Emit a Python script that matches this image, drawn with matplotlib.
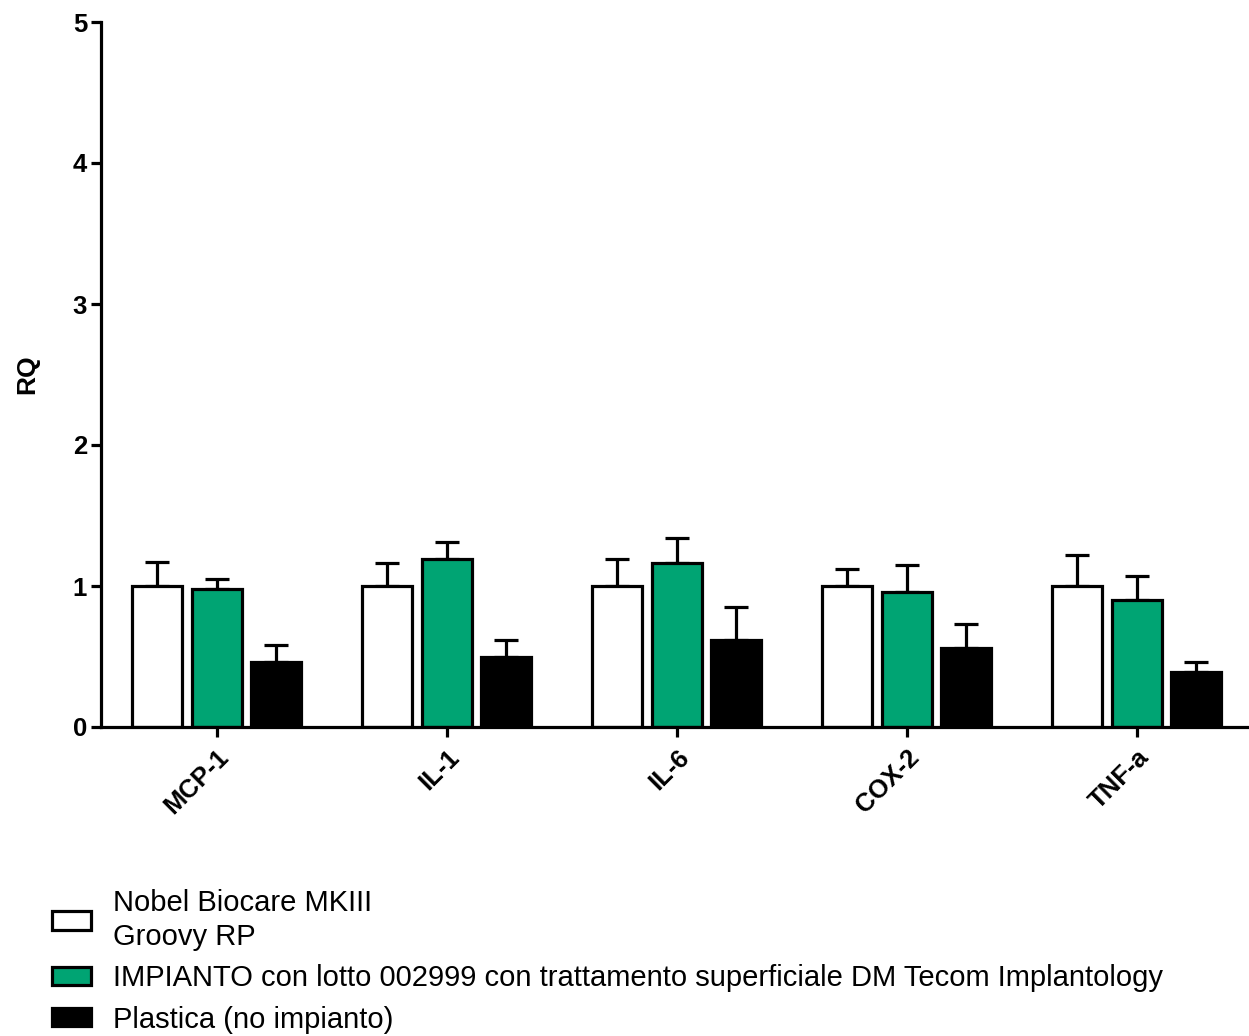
import matplotlib
matplotlib.use("Agg")
import matplotlib.pyplot as plt
import matplotlib.transforms as mtransforms
import numpy as np
from matplotlib.patches import Patch

categories = ["MCP-1", "IL-1", "IL-6", "COX-2", "TNF-a"]
series_names = ["Nobel Biocare MKIII\nGroovy RP",
                "IMPIANTO con lotto 002999 con trattamento superficiale DM Tecom Implantology",
                "Plastica (no impianto)"]
nobel = [1.00, 1.00, 1.00, 1.00, 1.00]
nobel_err = [0.17, 0.16, 0.19, 0.12, 0.22]
impianto = [0.98, 1.19, 1.16, 0.96, 0.90]
impianto_err = [0.07, 0.12, 0.18, 0.19, 0.17]
plastica = [0.46, 0.50, 0.62, 0.56, 0.39]
plastica_err = [0.12, 0.12, 0.23, 0.17, 0.07]
colors = ["white", "#00A473", "black"]
yticks = [0, 1, 2, 3, 4, 5]

plt.rcParams['font.family'] = ['Liberation Sans', 'DejaVu Sans']

fig = plt.figure(figsize=(12.49, 10.36), dpi=100)
ax = fig.add_axes([101/1249, 1 - 727/1036, 1 - 101/1249, (727 - 22)/1036])

x = np.arange(len(categories))
width = 50/230
offset = 59.5/230
lw = 2.3
data = [(nobel, nobel_err), (impianto, impianto_err), (plastica, plastica_err)]
for i, ((vals, errs), c) in enumerate(zip(data, colors)):
    pos = x + (i - 1) * offset
    ax.bar(pos, vals, width, color=c, edgecolor="black", linewidth=lw, zorder=2)
    ax.errorbar(pos, vals, yerr=[np.zeros(len(vals)), errs], fmt="none",
                ecolor="black", elinewidth=lw, capsize=8.5, capthick=lw, zorder=1)

ax.set_xlim(-0.504, 4.487)
ax.set_ylim(0, 5)
ax.set_yticks(yticks)
ax.set_xticks(x)
ax.set_xticklabels(categories, rotation=45, ha="right", rotation_mode="anchor",
                   fontsize=18.5, fontweight="bold")
shift = mtransforms.ScaledTranslation(-6/100, 0, fig.dpi_scale_trans)
for lab in ax.get_xticklabels():
    lab.set_transform(lab.get_transform() + shift)
for lab in ax.get_yticklabels():
    lab.set_fontsize(18.5)
    lab.set_fontweight("bold")
ax.set_ylabel("RQ", fontsize=19, fontweight="bold", labelpad=24)
for s in ["top", "right"]:
    ax.spines[s].set_visible(False)
for s in ["left", "bottom"]:
    ax.spines[s].set_linewidth(lw)
ax.tick_params(axis="both", width=lw, length=7, direction="out")
ax.tick_params(axis="x", pad=6)
ax.tick_params(axis="y", pad=3)

handles = [Patch(facecolor=c, edgecolor="black", linewidth=lw) for c in colors]
leg = fig.legend(handles, series_names, loc="upper left",
           bbox_to_anchor=(40/1249, 1 - 877/1036), frameon=False,
           fontsize=21, handlelength=1.35, handleheight=0.6,
           handletextpad=0.75, labelspacing=0.45, borderaxespad=0)
for t in leg.get_texts():
    t.set_linespacing(1.3)

fig.savefig("out.png", dpi=100)
